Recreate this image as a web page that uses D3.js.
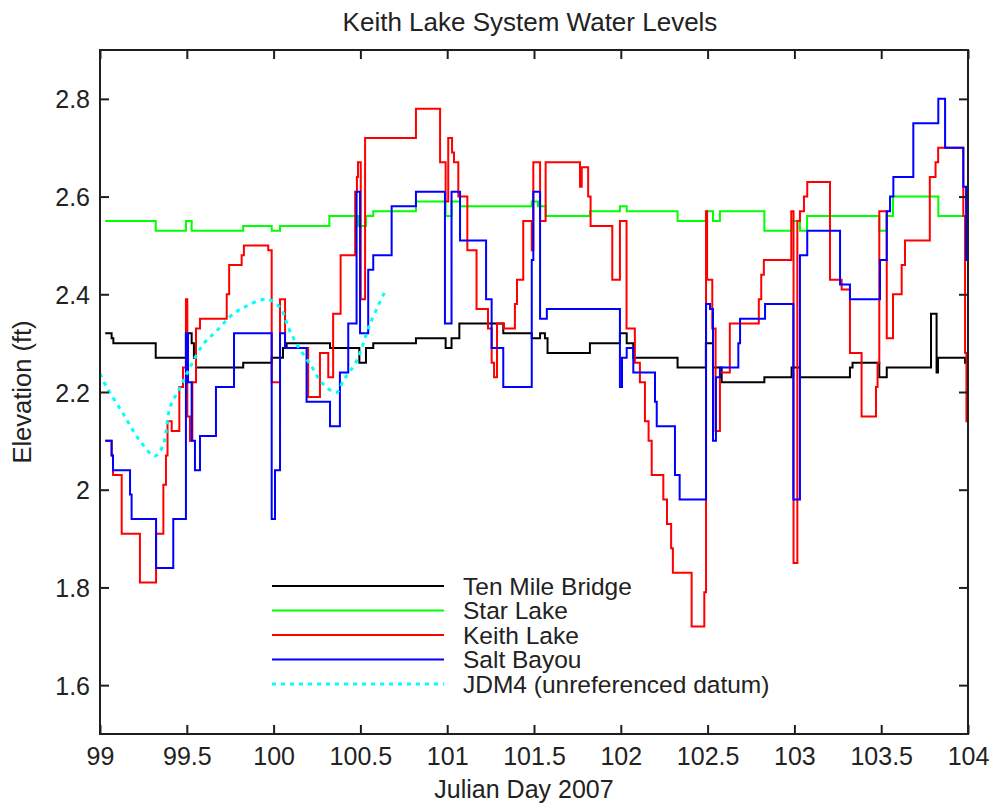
<!DOCTYPE html>
<html><head><meta charset="utf-8">
<script src="https://cdn.jsdelivr.net/npm/d3@7"></script>
<style>body{margin:0;background:#fff}svg{display:block}</style>
</head><body>
<svg id="chart" width="992" height="807"></svg>
<script>
const chartTitle = "Keith Lake System Water Levels";
const xLabel = "Julian Day 2007";
const yLabel = "Elevation (ft)";
const xTicks = [99, 99.5, 100, 100.5, 101, 101.5, 102, 102.5, 103, 103.5, 104];
const yTicks = [1.6, 1.8, 2, 2.2, 2.4, 2.6, 2.8];
const seriesNames = ["Ten Mile Bridge", "Star Lake", "Keith Lake", "Salt Bayou", "JDM4 (unreferenced datum)"];
const seriesColors = ["#000000", "#00ff00", "#ff0000", "#0000ff", "#00ffff"];

const tenMileBridge = [[99.03,2.32],[99.067,2.31],[99.077,2.30],[99.321,2.27],[99.495,2.32],[99.528,2.30],[99.541,2.27],[99.553,2.25],[99.825,2.26],[99.989,2.27],[100.054,2.29],[100.075,2.30],[100.325,2.29],[100.494,2.26],[100.532,2.29],[100.574,2.30],[100.820,2.31],[100.991,2.29],[101.025,2.31],[101.070,2.34],[101.323,2.32],[101.487,2.31],[101.535,2.32],[101.563,2.31],[101.578,2.28],[101.822,2.30],[101.995,2.32],[102.034,2.30],[102.072,2.27],[102.327,2.25],[102.490,2.30],[102.531,2.25],[102.581,2.22],[102.827,2.23],[102.984,2.25],[103.032,2.23],[103.320,2.25],[103.335,2.26],[103.489,2.23],[103.532,2.25],[103.787,2.36],[103.819,2.24],[103.827,2.27],[103.983,2.26],[104,2.26]];

const starLake = [[99.03,2.55],[99.321,2.53],[99.495,2.55],[99.528,2.53],[99.825,2.54],[99.989,2.53],[100.037,2.54],[100.321,2.56],[100.488,2.54],[100.532,2.56],[100.574,2.57],[100.820,2.59],[100.991,2.56],[101.025,2.59],[101.074,2.58],[101.487,2.59],[101.523,2.58],[101.567,2.56],[101.822,2.57],[101.995,2.58],[102.034,2.57],[102.327,2.55],[102.490,2.57],[102.531,2.55],[102.571,2.57],[102.827,2.53],[102.984,2.55],[103.032,2.53],[103.073,2.56],[103.489,2.53],[103.532,2.56],[103.568,2.60],[103.829,2.56],[104,2.56]];

const keithLake = [[99.03,2.10],[99.067,2.07],[99.075,2.03],[99.125,1.91],[99.230,1.81],[99.323,1.91],[99.365,2.01],[99.380,2.07],[99.389,2.14],[99.413,2.12],[99.457,2.21],[99.478,2.25],[99.495,2.39],[99.503,2.15],[99.518,2.10],[99.532,2.22],[99.553,2.33],[99.576,2.35],[99.730,2.40],[99.744,2.46],[99.816,2.48],[99.829,2.50],[99.969,2.49],[99.989,2.22],[100.037,2.39],[100.066,2.29],[100.199,2.19],[100.267,2.28],[100.315,2.23],[100.343,2.36],[100.386,2.48],[100.470,2.61],[100.480,2.64],[100.486,2.67],[100.502,2.39],[100.527,2.72],[100.820,2.78],[100.959,2.67],[100.991,2.59],[101.006,2.72],[101.028,2.69],[101.039,2.67],[101.064,2.60],[101.116,2.49],[101.169,2.37],[101.235,2.33],[101.256,2.26],[101.270,2.23],[101.287,2.34],[101.327,2.33],[101.390,2.38],[101.402,2.43],[101.438,2.55],[101.487,2.49],[101.496,2.67],[101.535,2.55],[101.567,2.67],[101.765,2.62],[101.775,2.66],[101.812,2.60],[101.826,2.54],[101.951,2.43],[101.995,2.55],[102.033,2.33],[102.081,2.26],[102.110,2.22],[102.139,2.14],[102.160,2.10],[102.178,2.03],[102.245,1.98],[102.266,1.93],[102.290,1.88],[102.300,1.83],[102.408,1.72],[102.481,1.79],[102.491,2.57],[102.497,2.43],[102.527,2.33],[102.546,2.12],[102.571,2.24],[102.628,2.34],[102.795,2.39],[102.809,2.44],[102.824,2.47],[102.982,2.57],[102.995,1.85],[103.017,2.55],[103.032,2.57],[103.055,2.60],[103.074,2.63],[103.205,2.43],[103.272,2.41],[103.320,2.28],[103.387,2.15],[103.470,2.21],[103.479,2.26],[103.489,2.57],[103.532,2.31],[103.568,2.40],[103.618,2.46],[103.637,2.51],[103.780,2.64],[103.813,2.67],[103.828,2.70],[103.973,2.56],[103.983,2.28],[103.991,2.14],[104,2.14]];

const saltBayou = [[99.03,2.10],[99.067,2.07],[99.075,2.04],[99.173,1.99],[99.182,1.94],[99.323,1.84],[99.422,1.94],[99.495,2.32],[99.507,2.22],[99.528,2.10],[99.547,2.04],[99.576,2.11],[99.668,2.21],[99.772,2.32],[99.989,1.94],[100.008,2.04],[100.037,2.32],[100.066,2.29],[100.190,2.18],[100.325,2.13],[100.382,2.24],[100.430,2.34],[100.478,2.61],[100.498,2.32],[100.545,2.45],[100.574,2.48],[100.680,2.58],[100.820,2.61],[100.987,2.34],[101.025,2.61],[101.074,2.51],[101.224,2.39],[101.256,2.29],[101.323,2.21],[101.487,2.47],[101.496,2.61],[101.535,2.35],[101.574,2.37],[101.995,2.21],[102.007,2.27],[102.034,2.29],[102.072,2.24],[102.197,2.18],[102.207,2.13],[102.312,2.03],[102.339,1.98],[102.491,2.38],[102.514,2.37],[102.531,2.10],[102.548,2.23],[102.571,2.25],[102.677,2.30],[102.687,2.35],[102.831,2.38],[102.994,1.98],[103.032,2.48],[103.074,2.53],[103.263,2.42],[103.320,2.39],[103.493,2.47],[103.532,2.57],[103.551,2.60],[103.570,2.64],[103.685,2.75],[103.829,2.80],[103.868,2.70],[103.973,2.62],[103.989,2.47],[104,2.47]];

const jdm4 = [[99.0,2.237],[99.039,2.21],[99.134,2.155],[99.230,2.10],[99.317,2.069],[99.365,2.093],[99.403,2.168],[99.461,2.209],[99.518,2.25],[99.595,2.298],[99.672,2.325],[99.768,2.36],[99.845,2.376],[99.960,2.39],[100.037,2.373],[100.085,2.332],[100.133,2.298],[100.210,2.257],[100.286,2.216],[100.363,2.199],[100.401,2.223],[100.479,2.264],[100.555,2.339],[100.642,2.406]];

(function () {
const svg = d3.select("#chart");
const mLeft = 100, mRight = 968, mTop = 50, mBottom = 734;
const x = d3.scaleLinear().domain([99, 104]).range([mLeft, mRight]);
const y = d3.scaleLinear().domain([1.5, 2.9]).range([mBottom, mTop]);
const font = "'Liberation Sans', Arial, Helvetica, sans-serif";
const axisColor = "#1e1e1e";
const textColor = "#222";

svg.append("rect").attr("width", 992).attr("height", 807).attr("fill", "#fff");

svg.append("clipPath").attr("id", "plotclip").append("rect")
  .attr("x", mLeft).attr("y", mTop).attr("width", mRight - mLeft).attr("height", mBottom - mTop);

const plot = svg.append("g").attr("clip-path", "url(#plotclip)");
const stepLine = d3.line().x(d => x(d[0])).y(d => y(d[1])).curve(d3.curveStepAfter);
const smoothLine = d3.line().x(d => x(d[0])).y(d => y(d[1])).curve(d3.curveCatmullRom);

const stepSeries = [tenMileBridge, starLake, keithLake, saltBayou];
stepSeries.forEach((s, i) => {
  plot.append("path").datum(s).attr("d", stepLine)
    .attr("fill", "none").attr("stroke", seriesColors[i]).attr("stroke-width", 2)
    .attr("stroke-linejoin", "miter").attr("stroke-linecap", "butt");
});
plot.append("path").datum(jdm4).attr("d", smoothLine)
  .attr("fill", "none").attr("stroke", seriesColors[4]).attr("stroke-width", 3)
  .attr("stroke-dasharray", "4,5");

const tickLen = 9;
const gx = svg.append("g").attr("transform", `translate(0,${mBottom})`)
  .call(d3.axisBottom(x).tickValues(xTicks).tickSizeInner(-tickLen).tickSizeOuter(0).tickFormat(d => String(d)));
const gxt = svg.append("g").attr("transform", `translate(0,${mTop})`)
  .call(d3.axisTop(x).tickValues(xTicks).tickSizeInner(-tickLen).tickSizeOuter(0).tickFormat(""));
const gy = svg.append("g").attr("transform", `translate(${mLeft},0)`)
  .call(d3.axisLeft(y).tickValues(yTicks).tickSizeInner(-tickLen).tickSizeOuter(0).tickFormat(d => String(d)));
const gyr = svg.append("g").attr("transform", `translate(${mRight},0)`)
  .call(d3.axisRight(y).tickValues(yTicks).tickSizeInner(-tickLen).tickSizeOuter(0).tickFormat(""));

[gx, gxt, gy, gyr].forEach(g => {
  g.select(".domain").remove();
  g.selectAll(".tick line").attr("stroke", axisColor).attr("stroke-width", 2);
  g.selectAll("text").attr("font-family", font).attr("font-size", 25).attr("fill", textColor);
});
gx.selectAll(".tick text").attr("y", 31).attr("dy", 0);
gy.selectAll(".tick text").attr("x", -10).attr("dy", "0.36em");

svg.append("rect").attr("x", mLeft).attr("y", mTop).attr("width", mRight - mLeft).attr("height", mBottom - mTop)
  .attr("fill", "none").attr("stroke", axisColor).attr("stroke-width", 2);

svg.append("text").attr("x", 530).attr("y", 31).attr("text-anchor", "middle")
  .attr("font-family", font).attr("font-size", 26).attr("fill", textColor).text(chartTitle);
svg.append("text").attr("x", 524).attr("y", 798).attr("text-anchor", "middle")
  .attr("font-family", font).attr("font-size", 25).attr("fill", textColor).text(xLabel);
svg.append("text").attr("transform", "translate(31,392) rotate(-90)").attr("text-anchor", "middle")
  .attr("font-family", font).attr("font-size", 25.5).attr("fill", textColor).text(yLabel);

const legendRows = [586, 610.5, 635, 659.5, 684];
const lg = svg.append("g");
seriesNames.forEach((name, i) => {
  const ly = legendRows[i];
  const ln = lg.append("line").attr("x1", 272).attr("x2", 444).attr("y1", ly).attr("y2", ly)
    .attr("stroke", seriesColors[i]).attr("stroke-width", i === 4 ? 3 : 2);
  if (i === 4) ln.attr("stroke-dasharray", "4,5");
  lg.append("text").attr("x", 463).attr("y", ly + 8.5)
    .attr("font-family", font).attr("font-size", 24.5).attr("fill", textColor).text(name);
});
})();
</script>
</body></html>
